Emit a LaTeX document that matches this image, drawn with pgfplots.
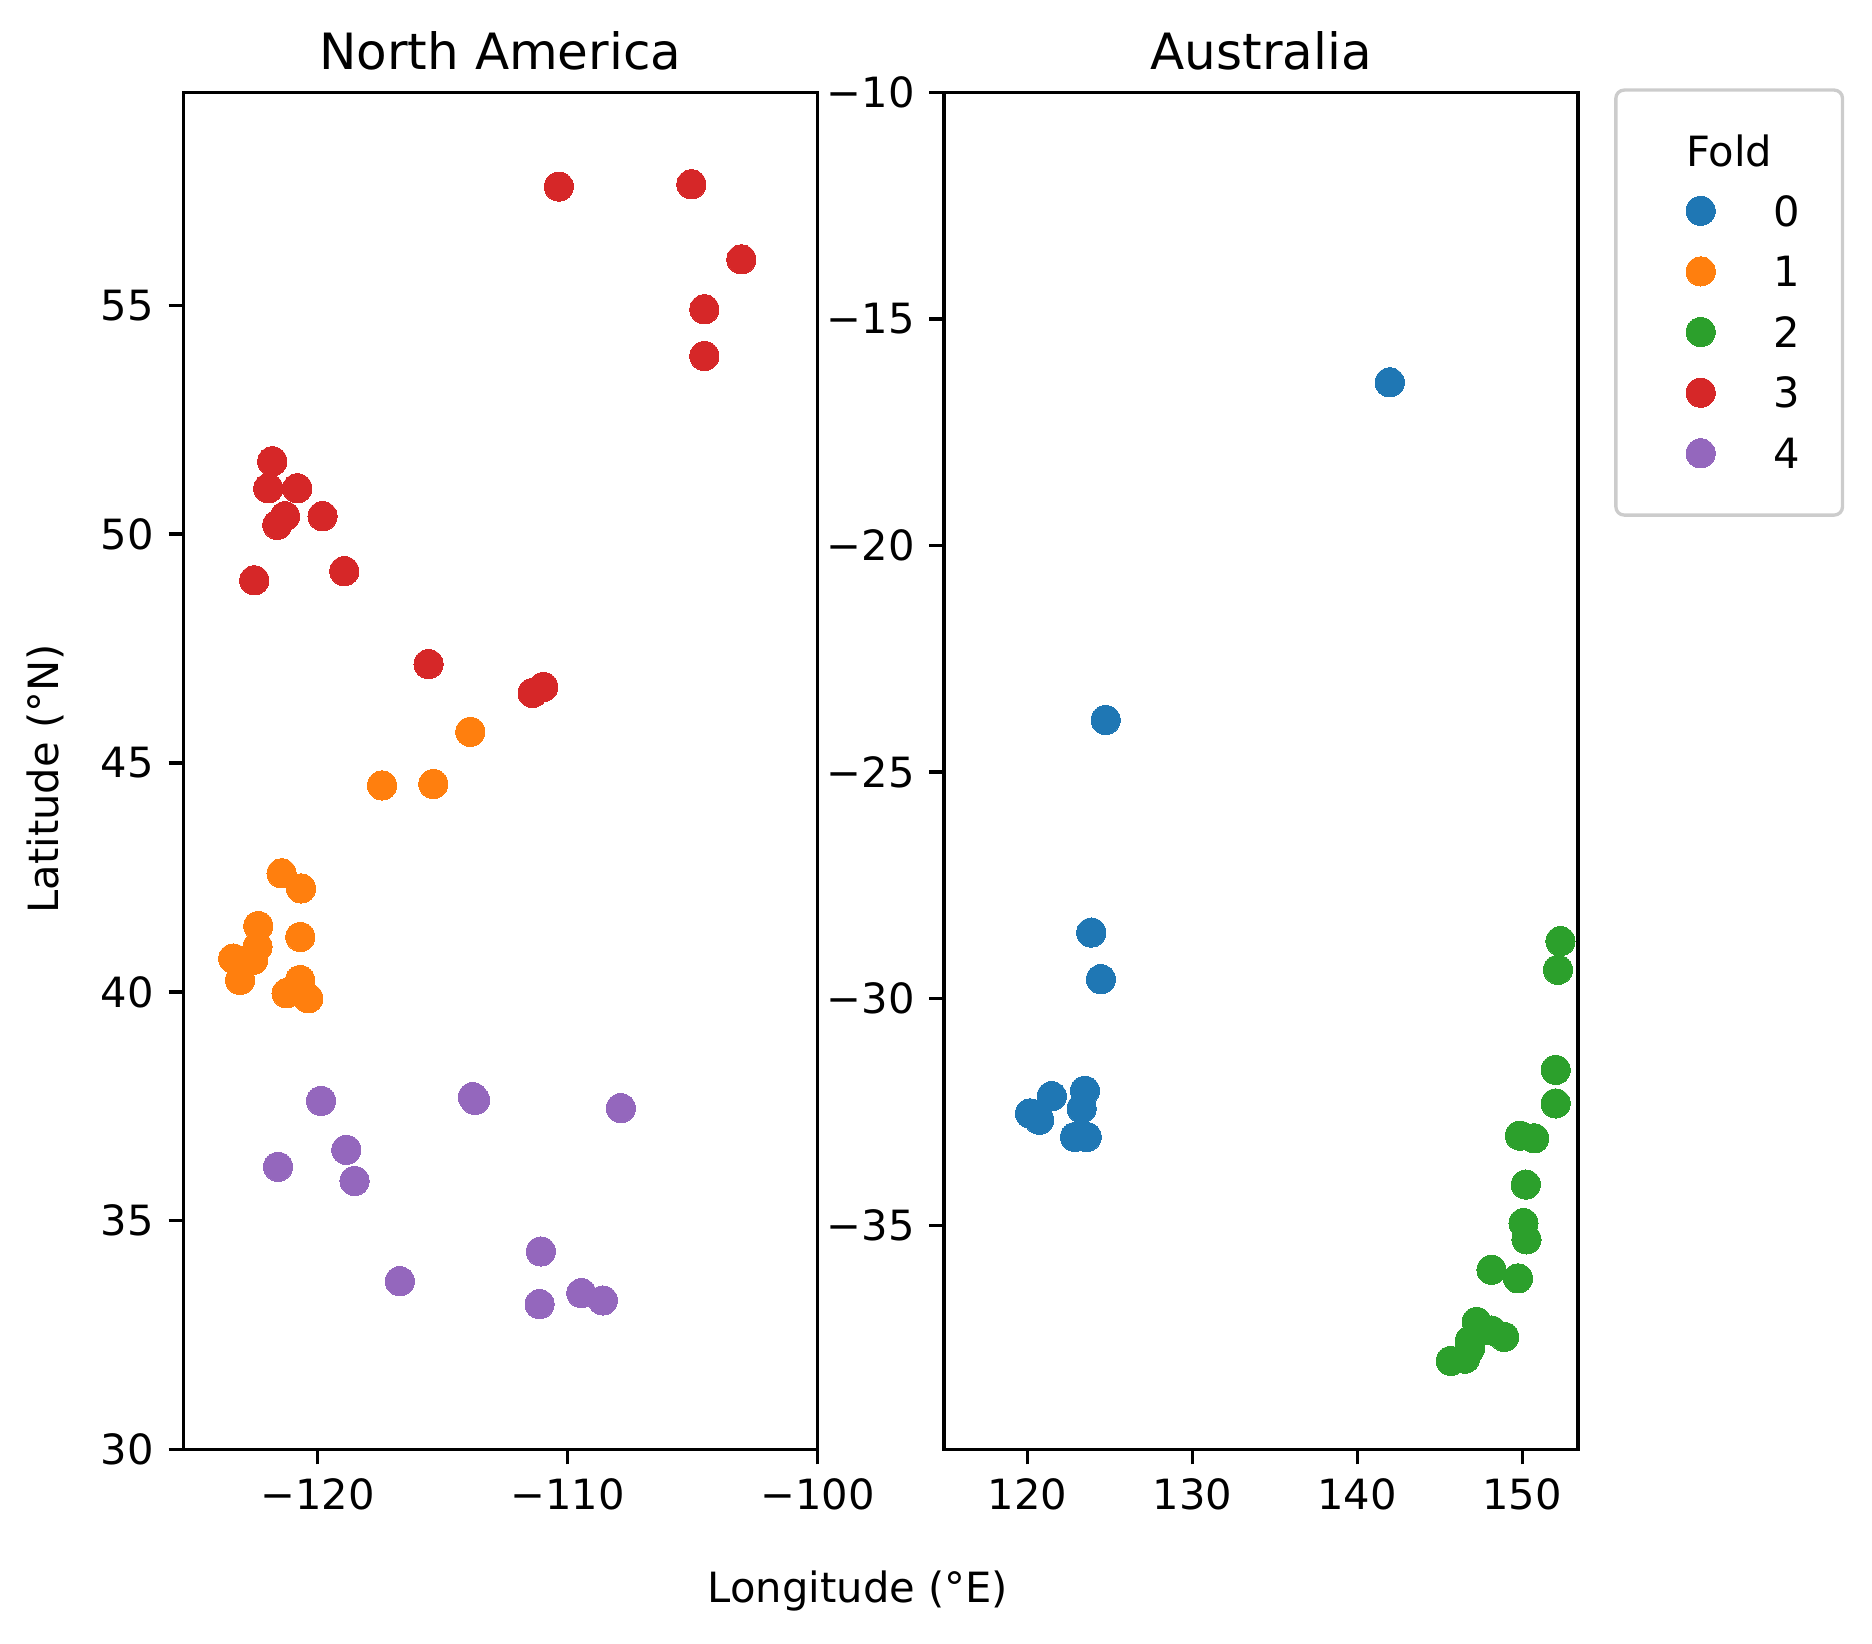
\documentclass[border=0pt]{standalone}
\usepackage{fontspec}
\setmainfont{DejaVu Sans}
\usepackage{pgfplots}
\pgfplotsset{compat=1.18}

\definecolor{c0}{HTML}{1F77B4}
\definecolor{c1}{HTML}{FF7F0E}
\definecolor{c2}{HTML}{2CA02C}
\definecolor{c3}{HTML}{D62728}
\definecolor{c4}{HTML}{9467BD}

\pgfplotsset{
  panel/.style={
    scale only axis, width=152.18pt, height=325.78pt, anchor=south west,
    axis line style={black, line width=0.8pt},
    tick align=outside, xtick pos=bottom, ytick pos=left,
    major tick length=3.5pt,
    every tick/.style={black, line width=0.8pt},
    tick label style={font=\fontsize{10}{12}\selectfont},
    title style={at={(0.5,1)}, anchor=base, yshift=-0.6pt, font=\fontsize{12}{14}\selectfont},
  },
  dot/.style={only marks, mark=*, mark size=3.5pt,
    mark options={draw=#1, fill=#1, line width=0pt}},
}

\begin{document}
\begin{tikzpicture}
\path[use as bounding box] (0,0) rectangle (449.28pt,394.32pt);

% North America
\begin{axis}[panel, at={(43.99pt,46.39pt)},
  title={North America},
  xmin=-125.36, xmax=-100, ymin=30, ymax=59.65,
  xtick={-120,-110,-100}, xticklabels={−120,−110,−100},
  ytick={30,35,40,45,50,55}, yticklabels={30,35,40,45,50,55}]
  % fold 1
  \addplot[dot=c1] coordinates {
    (-113.88,45.68) (-117.41,44.51) (-115.36,44.54) (-121.43,42.59) (-120.65,42.26)
    (-122.36,41.44) (-120.68,41.20) (-122.39,40.99) (-123.36,40.73) (-122.56,40.70)
    (-123.09,40.26) (-120.69,40.26) (-121.23,39.97) (-120.36,39.86)};
  % fold 3
  \addplot[dot=c3] coordinates {
    (-110.34,57.59) (-105.04,57.64) (-103.04,56.00) (-104.52,54.91) (-104.52,53.89)
    (-121.80,51.59) (-121.96,51.00) (-120.80,51.00) (-121.29,50.39) (-121.60,50.20)
    (-119.79,50.39) (-122.52,48.99) (-118.92,49.19) (-115.55,47.16) (-111.39,46.53)
    (-110.96,46.66)};
  % fold 4
  \addplot[dot=c4] coordinates {
    (-119.85,37.62) (-113.78,37.70) (-113.69,37.64) (-107.86,37.46) (-121.57,36.18)
    (-118.84,36.55) (-118.51,35.87) (-116.70,33.68) (-111.06,34.33) (-111.11,33.18)
    (-109.44,33.42) (-108.58,33.26)};
\end{axis}

% Australia
\begin{axis}[panel, at={(226.56pt,46.39pt)},
  title={Australia},
  xmin=114.95, xmax=153.39, ymin=-39.95, ymax=-10,
  xtick={120,130,140,150}, xticklabels={120,130,140,150},
  ytick={-35,-30,-25,-20,-15,-10}, yticklabels={−35,−30,−25,−20,−15,−10},
  legend cell align=left,
  legend style={at={(1.1346,0.9245)}, anchor=north west, draw=none, fill=none,
    inner sep=0pt, row sep=7.25pt, column sep=8.7pt,
    nodes={inner sep=0pt, text height=7.3pt, text depth=0pt,
           font=\fontsize{10}{12}\selectfont}},
  legend image code/.code={
    \path (0cm,0cm) (0.6cm,0cm);
    \draw[#1] plot coordinates {(0.3cm,0cm)};}]
  \addlegendimage{dot=c0}\addlegendentry{0}
  \addlegendimage{dot=c1}\addlegendentry{1}
  \addlegendimage{dot=c2}\addlegendentry{2}
  \addlegendimage{dot=c3}\addlegendentry{3}
  \addlegendimage{dot=c4}\addlegendentry{4}
  % fold 0
  \addplot[dot=c0, forget plot] coordinates {
    (141.97,-16.40) (124.75,-23.85) (123.88,-28.54) (124.46,-29.57) (123.49,-32.03)
    (123.29,-32.42) (121.48,-32.15) (120.16,-32.53) (120.72,-32.67) (122.89,-33.05)
    (123.60,-33.05)};
  % fold 2
  \addplot[dot=c2, forget plot] coordinates {
    (152.32,-28.73) (152.17,-29.36) (152.03,-31.57) (152.03,-32.31) (149.86,-33.02)
    (150.73,-33.08) (150.22,-34.10) (150.08,-34.95) (150.26,-35.31) (148.14,-35.98)
    (149.75,-36.17) (147.24,-37.13) (148.14,-37.32) (148.91,-37.46) (146.83,-37.54)
    (146.83,-37.72) (146.53,-37.94) (145.67,-37.99)};
\end{axis}

% legend frame and title
\draw[black!20, line width=0.8pt, rounded corners=2pt]
  (387.8pt,270.7pt) rectangle (442.2pt,372.7pt);
\node[font=\fontsize{10}{12}\selectfont] at (415.0pt,358.2pt) {Fold};

% shared axis labels
\node[rotate=90, font=\fontsize{10}{12}\selectfont] at (11.0pt,207.4pt) {Latitude (°N)};
\node[font=\fontsize{10}{12}\selectfont] at (205.9pt,12.6pt) {Longitude (°E)};
\end{tikzpicture}
\end{document}
